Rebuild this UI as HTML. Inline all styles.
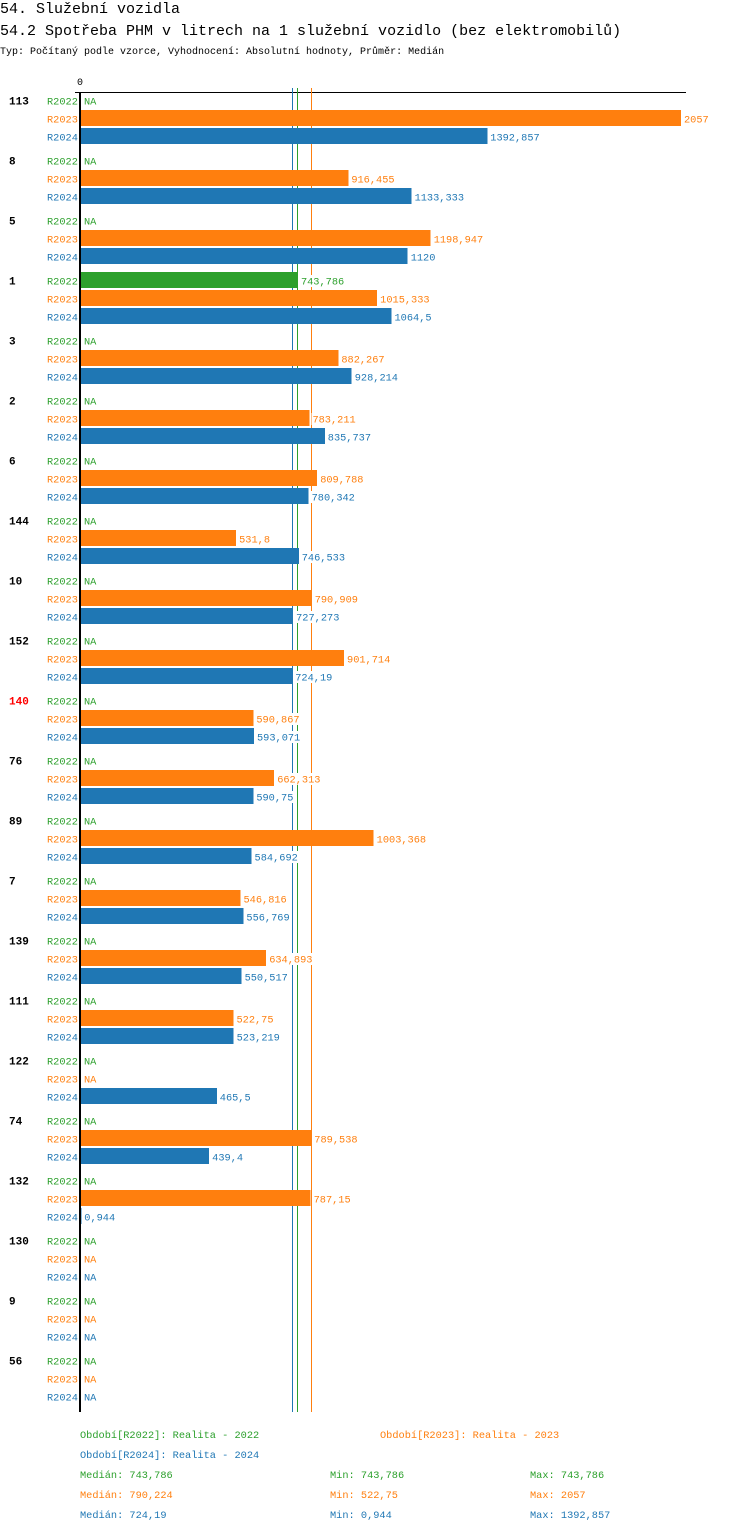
<!DOCTYPE html>
<html><head><meta charset="utf-8"><style>
body{margin:0;background:#fff;width:750px;height:1532px;overflow:hidden}
svg{display:block}
text{font-family:"Liberation Mono",monospace}
</style></head><body>
<svg id="c" width="750" height="1532" xmlns="http://www.w3.org/2000/svg">
<text x="0" y="13" font-size="15">54. Služební vozidla</text>
<text x="0" y="35" font-size="15">54.2 Spotřeba PHM v litrech na 1 služební vozidlo (bez elektromobilů)</text>
<text x="0" y="54" font-size="10">Typ: Počítaný podle vzorce, Vyhodnocení: Absolutní hodnoty, Průměr: Medián</text>
<text x="80" y="85" font-size="10" text-anchor="middle">0</text>
<rect x="75" y="92" width="611" height="1" fill="#000"/>
<g id="g" shape-rendering="crispEdges"></g>
<g font-size="10.3">
<text x="80" y="1438" fill="#2ca02c">Období[R2022]: Realita - 2022</text>
<text x="380" y="1438" fill="#ff7f0e">Období[R2023]: Realita - 2023</text>
<text x="80" y="1458" fill="#1f77b4">Období[R2024]: Realita - 2024</text>
<text x="80" y="1478" fill="#2ca02c">Medián: 743,786</text>
<text x="330" y="1478" fill="#2ca02c">Min: 743,786</text>
<text x="530" y="1478" fill="#2ca02c">Max: 743,786</text>
<text x="80" y="1498" fill="#ff7f0e">Medián: 790,224</text>
<text x="330" y="1498" fill="#ff7f0e">Min: 522,75</text>
<text x="530" y="1498" fill="#ff7f0e">Max: 2057</text>
<text x="80" y="1518" fill="#1f77b4">Medián: 724,19</text>
<text x="330" y="1518" fill="#1f77b4">Min: 0,944</text>
<text x="530" y="1518" fill="#1f77b4">Max: 1392,857</text>
</g>
</svg>
<script>
const categories=["113","8","5","1","3","2","6","144","10","152","140","76","89","7","139","111","122","74","132","130","9","56"];
const r2022=[null,null,null,743.786,null,null,null,null,null,null,null,null,null,null,null,null,null,null,null,null,null,null];
const r2023=[2057,916.455,1198.947,1015.333,882.267,783.211,809.788,531.8,790.909,901.714,590.867,662.313,1003.368,546.816,634.893,522.75,null,789.538,787.15,null,null,null];
const r2024=[1392.857,1133.333,1120,1064.5,928.214,835.737,780.342,746.533,727.273,724.19,593.071,590.75,584.692,556.769,550.517,523.219,465.5,439.4,0.944,null,null,null];
const medians=[724.19,743.786,790.224];
const medianColors=["#1f77b4","#2ca02c","#ff7f0e"];
const highlight="140";
const NS="http://www.w3.org/2000/svg";
const g=document.getElementById('g');
const x0=81,xMax=2057,xEnd=681;
function xs(v){return x0+v*(xEnd-x0)/xMax;}
function rowY(i,s){return 101+60*i+18*s;}
function mk(t,a){const e=document.createElementNS(NS,t);for(const k in a)e.setAttribute(k,a[k]);g.appendChild(e);return e;}
function fmt(v){return String(v).replace('.',',');}
medians.forEach((m,k)=>{
 const l=mk('rect',{x:Math.floor(xs(m)),y:88,width:1,height:1324,fill:medianColors[k]});
 
 
});
const series=[["R2022",r2022,"#2ca02c"],["R2023",r2023,"#ff7f0e"],["R2024",r2024,"#1f77b4"]];
categories.forEach((c,i)=>{
 const t=mk('text',{x:9,y:rowY(i,0)+3.5,'font-size':11,'font-weight':'bold',fill:c===highlight?'#ff0000':'#000'});
 t.textContent=c;
 
 
 series.forEach(([nm,arr,col],s)=>{
  const y=rowY(i,s);
  const sl=mk('text',{x:47,y:y+3.5,'font-size':10.3,fill:col});
  sl.textContent=nm;
  
  
  const v=arr[i];
  let lx=x0+3,txt='NA';
  if(v!=null){
   const b=mk('rect',{x:x0,y:y-9,width:Math.max(0,xs(v)-x0),height:16,fill:col});
   
   
   lx=xs(v)+3;txt=fmt(v);
  }
  const bg=mk('rect',{x:lx-1,y:y-6,width:txt.length*6.2+2,height:12,fill:'#fff'});
  
  
  const vl=mk('text',{x:lx,y:y+3.5,'font-size':10.3,fill:col});
  vl.textContent=txt;
  
  
 });
});
const ax=mk('rect',{x:79,y:92,width:2,height:1320,fill:'#000'});


</script>
</body></html>
